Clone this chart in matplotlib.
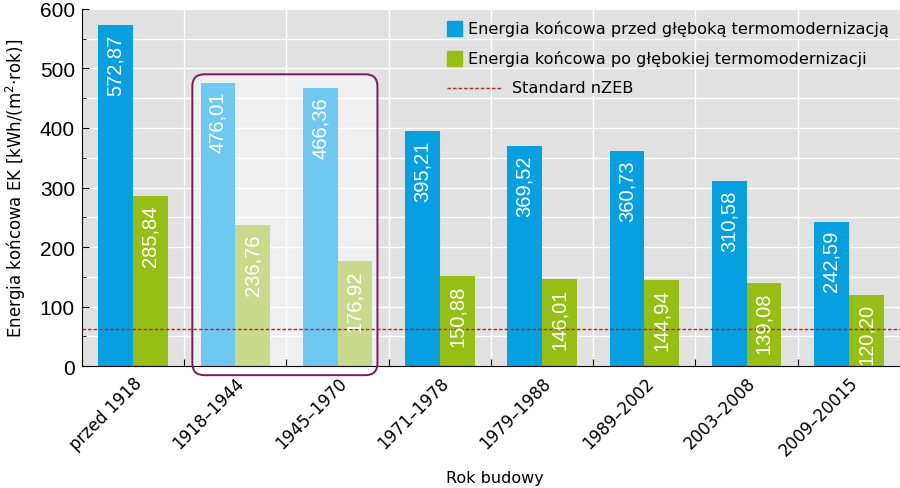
import matplotlib
matplotlib.use("Agg")
import matplotlib.pyplot as plt
from matplotlib.patches import FancyBboxPatch, Rectangle
from matplotlib.lines import Line2D
from matplotlib.transforms import IdentityTransform
from matplotlib.ticker import MultipleLocator
import numpy as np

categories = ["przed 1918", "1918–1944", "1945–1970", "1971–1978", "1979–1988",
              "1989–2002", "2003–2008", "2009–20015"]
before = [572.87, 476.01, 466.36, 395.21, 369.52, 360.73, 310.58, 242.59]
after = [285.84, 236.76, 176.92, 150.88, 146.01, 144.94, 139.08, 120.20]
highlight = [1, 2]
nzeb = 63
labels_legend = ["Energia końcowa przed głęboką termomodernizacją",
                 "Energia końcowa po głębokiej termomodernizacji",
                 "Standard nZEB"]

plt.rcParams['font.family'] = ['DejaVu Sans']
ARIAL = ["Liberation Sans", "DejaVu Sans"]

BLUE = "#069fe0"
GREEN = "#97be14"
BLUE_L = "#6fc8ef"
GREEN_L = "#c9da8c"
BG = "#e1e1e1"
RED = "#c41a2a"
PURPLE = "#7a1a63"

fig = plt.figure(figsize=(9, 4.89), dpi=100)
ax = fig.add_axes([0.091, 0.249, 0.909, 0.731])
ax.set_facecolor(BG)
n = len(categories)
x = np.arange(n)
w = 0.34
ax.set_xlim(-0.5, n - 0.5)
ax.set_ylim(0, 600)

ax.yaxis.set_major_locator(MultipleLocator(100))
ax.yaxis.set_minor_locator(MultipleLocator(50))
ax.grid(True, which="both", axis="y", color="white", lw=1.0, zorder=1)
for b in np.arange(-0.5, n, 1):
    ax.axvline(b, color="white", lw=1.0, zorder=1)

for i in range(n):
    cb = BLUE_L if i in highlight else BLUE
    cg = GREEN_L if i in highlight else GREEN
    ax.bar(x[i] - w / 2, before[i], width=w, color=cb, zorder=2)
    ax.bar(x[i] + w / 2, after[i], width=w, color=cg, zorder=2)
    ax.text(x[i] - w / 2, before[i] - 14, f"{before[i]:.2f}".replace(".", ","),
            rotation=90, ha="center", va="top", color="white", fontsize=14.5, zorder=4,
            family=ARIAL)
    ax.text(x[i] + w / 2, after[i] - 14, f"{after[i]:.2f}".replace(".", ","),
            rotation=90, ha="center", va="top", color="white", fontsize=14.5, zorder=4,
            family=ARIAL)

ax.axhline(nzeb, color=RED, lw=1.0, ls=(0, (2.5, 1.5)), zorder=3)

# highlight box around the selected categories (pixel-rounded corners)
x0, y0 = ax.transData.transform((min(highlight) - 0.42, -15))
x1, y1 = ax.transData.transform((max(highlight) + 0.39, 490))
fill = FancyBboxPatch((x0, y0), x1 - x0, y1 - y0, boxstyle="round,pad=0,rounding_size=12",
                      fc="#efefef", ec="none", transform=IdentityTransform(), zorder=0.5)
ax.add_patch(fill)
fill.set_clip_path(ax.patch)
outline = FancyBboxPatch((x0, y0), x1 - x0, y1 - y0, boxstyle="round,pad=0,rounding_size=12",
                         fill=False, ec=PURPLE, lw=1.4, transform=IdentityTransform(),
                         zorder=5, clip_on=False)
ax.add_patch(outline)

ax.set_xticks(np.arange(-0.5, n, 1))
ax.set_xticklabels([])
ax.set_xticks(x, minor=True)
ax.set_xticklabels(categories, minor=True, rotation=45, ha="right",
                   rotation_mode="anchor", fontsize=12)
ax.tick_params(axis="x", which="minor", length=0, pad=5)
ax.tick_params(axis="x", which="major", direction="in", length=5, width=0.8)
ax.tick_params(axis="y", which="major", direction="in", length=5, labelsize=15,
               labelfontfamily="Liberation Sans", pad=5)
ax.tick_params(axis="y", which="minor", direction="in", length=3)

for s in ["top", "right"]:
    ax.spines[s].set_visible(False)
ax.spines["left"].set_color("black")
ax.spines["bottom"].set_color("black")

ax.set_ylabel("Energia końcowa EK [kWh/(m$^2$·rok)]", fontsize=12)
ax.yaxis.set_label_coords(-0.066, 0.5)
ax.set_xlabel("Rok budowy", fontsize=11.5)
ax.xaxis.set_label_coords(0.505, -0.29)

# legend drawn manually (line handle is longer than the square handles)
tr = ax.transAxes
ax.add_patch(Rectangle((0.4462, 0.9250), 0.0183, 0.042, color=BLUE, transform=tr,
                       zorder=6, clip_on=False))
ax.add_patch(Rectangle((0.4462, 0.8410), 0.0183, 0.042, color=GREEN, transform=tr,
                       zorder=6, clip_on=False))
ax.add_line(Line2D([0.4462, 0.5134], [0.7787, 0.7787], color=RED, lw=1.0,
                   ls=(0, (2.5, 1.5)), transform=tr, zorder=6))
ax.text(0.4719, 0.9468, labels_legend[0], transform=tr, fontsize=11.6, va="center",
        ha="left", zorder=6)
ax.text(0.4719, 0.8628, labels_legend[1], transform=tr, fontsize=11.6, va="center",
        ha="left", zorder=6)
ax.text(0.5257, 0.7787, labels_legend[2], transform=tr, fontsize=11.6, va="center",
        ha="left", zorder=6)

fig.savefig("out.png", dpi=100)
